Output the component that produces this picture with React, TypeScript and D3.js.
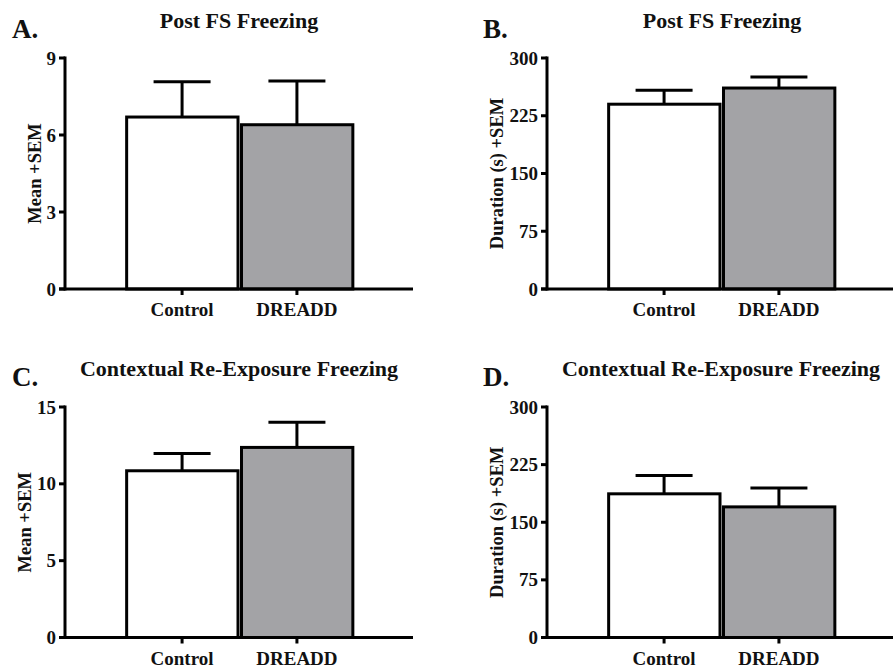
import React from "react";
import * as d3 from "d3";

// values
const groups = ["Control", "DREADD"];
const postFsMean = [6.7, 6.4];
const postFsMeanSem = [1.37, 1.7];
const postFsDuration = [240, 261];
const postFsDurationSem = [18, 14.3];
const reExpMean = [10.85, 12.37];
const reExpMeanSem = [1.13, 1.63];
const reExpDuration = [187, 170];
const reExpDurationSem = [24, 24.5];
const ticks9 = [0, 3, 6, 9];
const ticks15 = [0, 5, 10, 15];
const ticks300 = [0, 75, 150, 225, 300];
const barFills = ["#ffffff", "#a3a3a6"];

const FONT = "'Liberation Serif', 'Times New Roman', serif";

type PanelProps = {
  letter: string;
  title: string;
  yLabel: string;
  means: number[];
  sems: number[];
  ticks: number[];
  axisX: number;
  topY: number;
  zeroY: number;
  titleX: number;
  titleY: number;
  letterX: number;
  letterY: number;
  labelOffset: number;
};

function Panel(p: PanelProps) {
  const yMax = p.ticks[p.ticks.length - 1];
  const y = d3.scaleLinear().domain([0, yMax]).range([p.zeroY, p.topY]);
  const x = d3
    .scaleBand<string>()
    .domain(groups)
    .range([p.axisX, p.axisX + 348])
    .paddingInner(0)
    .paddingOuter(0.515);
  const step = x.step();
  const center = (g: string) => (x(g) as number) + step / 2 + 0.5;

  return (
    <g fontFamily={FONT} fontWeight="bold" fill="#111">
      <text x={p.letterX} y={p.letterY} fontSize={27}>{p.letter}</text>
      <text x={p.titleX} y={p.titleY} fontSize={22} textAnchor="middle">{p.title}</text>
      <text
        transform={`translate(${p.axisX - p.labelOffset},${(p.zeroY + p.topY) / 2}) rotate(-90)`}
        fontSize={18.5}
        textAnchor="middle"
      >
        {p.yLabel}
      </text>

      {groups.map((g, i) => (
        <rect
          key={g}
          x={(x(g) as number) + 2.5}
          y={y(p.means[i])}
          width={step - 3.5}
          height={p.zeroY - y(p.means[i])}
          fill={barFills[i]}
          stroke="#000"
          strokeWidth={3}
        />
      ))}

      {groups.map((g, i) => {
        const cx = center(g);
        const top = y(p.means[i] + p.sems[i]);
        return (
          <g key={g + "-err"} stroke="#000" strokeWidth={3}>
            <line x1={cx} x2={cx} y1={y(p.means[i])} y2={top} />
            <line x1={cx - 28.5} x2={cx + 28.5} y1={top} y2={top} />
          </g>
        );
      })}

      {/* y axis */}
      <line x1={p.axisX} x2={p.axisX} y1={p.topY - 1.5} y2={p.zeroY + 1.5} stroke="#000" strokeWidth={3} />
      {p.ticks.map((t) => (
        <g key={t}>
          <line x1={p.axisX - 6} x2={p.axisX} y1={y(t)} y2={y(t)} stroke="#000" strokeWidth={3} />
          <text x={p.axisX - 9} y={y(t) + 6.5} fontSize={19} textAnchor="end">{t}</text>
        </g>
      ))}

      {/* x axis */}
      <line x1={p.axisX - 6} x2={p.axisX + 348} y1={p.zeroY} y2={p.zeroY} stroke="#000" strokeWidth={3} />
      {groups.map((g) => (
        <g key={g + "-x"}>
          <line x1={center(g)} x2={center(g)} y1={p.zeroY} y2={p.zeroY + 6} stroke="#000" strokeWidth={3} />
          <text x={center(g)} y={p.zeroY + 27} fontSize={19} textAnchor="middle">{g}</text>
        </g>
      ))}
    </g>
  );
}

export default function App() {
  return (
    <svg
      width={893}
      height={668}
      style={{ position: "absolute", left: 0, top: 0, background: "#fff" }}
    >
      <rect width={893} height={668} fill="#fff" />
      <Panel
        letter="A." title="Post FS Freezing" yLabel="Mean +SEM"
        means={postFsMean} sems={postFsMeanSem} ticks={ticks9}
        axisX={65} topY={58} zeroY={289}
        titleX={239} titleY={28} letterX={12} letterY={38} labelOffset={24}
      />
      <Panel
        letter="B." title="Post FS Freezing" yLabel="Duration (s) +SEM"
        means={postFsDuration} sems={postFsDurationSem} ticks={ticks300}
        axisX={547} topY={58} zeroY={289}
        titleX={722} titleY={28} letterX={483} letterY={38} labelOffset={44}
      />
      <Panel
        letter="C." title="Contextual Re-Exposure Freezing" yLabel="Mean +SEM"
        means={reExpMean} sems={reExpMeanSem} ticks={ticks15}
        axisX={65} topY={407} zeroY={637.5}
        titleX={239} titleY={376} letterX={12} letterY={386} labelOffset={34}
      />
      <Panel
        letter="D." title="Contextual Re-Exposure Freezing" yLabel="Duration (s) +SEM"
        means={reExpDuration} sems={reExpDurationSem} ticks={ticks300}
        axisX={547} topY={407} zeroY={637.5}
        titleX={721} titleY={376} letterX={483} letterY={386} labelOffset={44}
      />
    </svg>
  );
}
